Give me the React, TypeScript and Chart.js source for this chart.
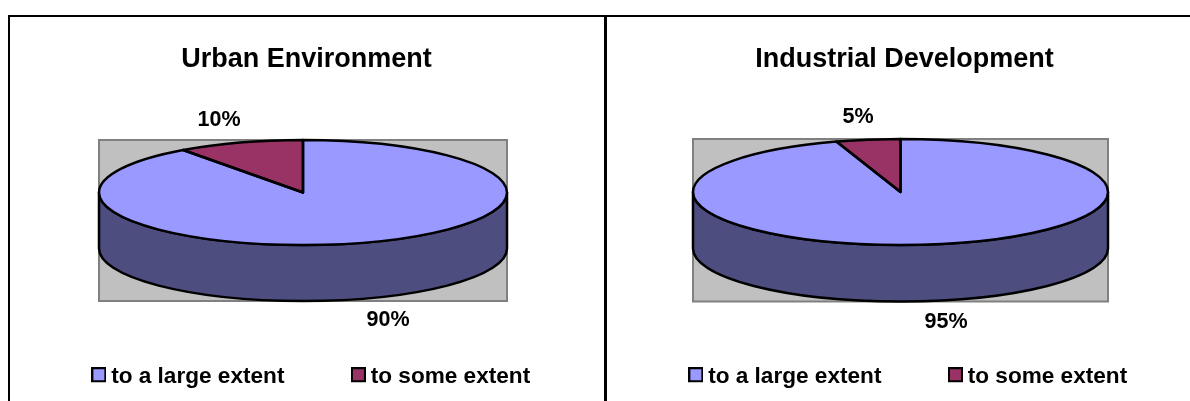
import React, { useEffect, useRef } from "react";
import { Chart, registerables } from "chart.js";

Chart.register(...registerables);

const categories = ["to a large extent", "to some extent"];
const urbanValues = [90, 10];
const industrialValues = [95, 5];
const sliceColors = ["#9999FF", "#993366"];
const wallColor = "#4D4D80";
const FONT = "'Liberation Sans', Arial, sans-serif";
const CANVAS_TOP = 17;
const CANVAS_H = 384;
const CANVAS_W = 595;

const panels = [
  { title: "Urban Environment", values: urbanValues, left: 9, cx: 303, cy: 192.5, rx: 204, ry: 52.5, depth: 56, labels: [[388, 320], [219, 120]], legendShift: 7.5 },
  { title: "Industrial Development", values: industrialValues, left: 607, cx: 900.5, cy: 192, rx: 207.5, ry: 53, depth: 56.5, labels: [[946, 322], [858, 117]], legendShift: 6.5 },
];

function swatch(color: string) {
  const c = document.createElement("canvas");
  c.width = 15;
  c.height = 19;
  const x = c.getContext("2d")!;
  x.fillStyle = color;
  x.fillRect(1, 1, 13, 13);
  x.strokeStyle = "#000";
  x.lineWidth = 2;
  x.strokeRect(1, 1, 13, 13);
  return c;
}

function piePlugin(p: (typeof panels)[number]) {
  const cx = p.cx - p.left;
  const cy = p.cy - CANVAS_TOP;
  return {
    id: "pie3d",
    afterLayout(chart: any) {
      chart.legend.left += p.legendShift;
      chart.legend.right += p.legendShift;
    },
    beforeDatasetsDraw(chart: any) {
      const ctx = chart.ctx;
      const el = chart.getDatasetMeta(0).data[0];
      ctx.save();
      ctx.fillStyle = "#C0C0C0";
      ctx.strokeStyle = "#808080";
      ctx.lineWidth = 2;
      ctx.fillRect(cx - p.rx, cy - p.ry, 2 * p.rx, 2 * p.ry + p.depth);
      ctx.strokeRect(cx - p.rx, cy - p.ry, 2 * p.rx, 2 * p.ry + p.depth);
      ctx.beginPath();
      ctx.moveTo(cx - p.rx, cy);
      ctx.lineTo(cx - p.rx, cy + p.depth);
      ctx.ellipse(cx, cy + p.depth, p.rx, p.ry, 0, Math.PI, 0, true);
      ctx.lineTo(cx + p.rx, cy);
      ctx.ellipse(cx, cy, p.rx, p.ry, 0, 0, Math.PI, false);
      ctx.closePath();
      ctx.fillStyle = wallColor;
      ctx.fill();
      ctx.strokeStyle = "#000";
      ctx.lineWidth = 2.5;
      ctx.lineJoin = "round";
      ctx.stroke();
      ctx.restore();
      ctx.save();
      ctx.translate(cx, cy);
      ctx.scale(1, p.ry / p.rx);
      ctx.translate(-el.x, -el.y);
    },
    afterDatasetsDraw(chart: any) {
      const ctx = chart.ctx;
      ctx.restore();
      ctx.save();
      ctx.strokeStyle = "#000";
      ctx.lineWidth = 2.5;
      ctx.lineJoin = "round";
      chart.getDatasetMeta(0).data.forEach((el: any) => {
        ctx.beginPath();
        ctx.moveTo(cx, cy);
        ctx.ellipse(cx, cy, p.rx, p.ry, 0, el.startAngle, el.endAngle, false);
        ctx.closePath();
        ctx.stroke();
      });
      ctx.fillStyle = "#000";
      ctx.font = `bold 21.5px ${FONT}`;
      ctx.textAlign = "center";
      ctx.textBaseline = "middle";
      p.values.forEach((v, i) => {
        ctx.fillText(`${v}%`, p.labels[i][0] - p.left, p.labels[i][1] - CANVAS_TOP);
      });
      ctx.restore();
    },
  };
}

function Panel({ p }: { p: (typeof panels)[number] }) {
  const ref = useRef<HTMLCanvasElement>(null);
  useEffect(() => {
    const swatches = sliceColors.map(swatch);
    const chart = new Chart(ref.current!, {
      type: "pie",
      data: {
        labels: categories,
        datasets: [{ data: p.values, backgroundColor: sliceColors, borderWidth: 0, radius: p.rx, clip: false } as any],
      },
      options: {
        responsive: false,
        animation: false,
        layout: { padding: { bottom: 3 } },
        plugins: {
          tooltip: { enabled: false },
          title: {
            display: true,
            text: p.title,
            color: "#000",
            font: { family: FONT, size: 27, weight: "bold" },
            padding: { top: 26, bottom: 0 },
          },
          legend: {
            position: "bottom",
            onClick: () => {},
            labels: {
              color: "#000",
              font: { family: FONT, size: 22.6, weight: "bold" },
              padding: 73,
              usePointStyle: true,
              pointStyleWidth: 2,
              boxHeight: 15,
              generateLabels: () =>
                categories.map((text, i) => ({ text, pointStyle: swatches[i], fillStyle: sliceColors[i], strokeStyle: "#000", lineWidth: 0, index: i, hidden: false })),
            },
          },
        },
      } as any,
      plugins: [piePlugin(p)],
    });
    return () => chart.destroy();
  }, [p]);
  return (
    <canvas
      ref={ref}
      width={CANVAS_W}
      height={CANVAS_H}
      style={{ position: "absolute", left: p.left, top: CANVAS_TOP, width: CANVAS_W, height: CANVAS_H }}
    />
  );
}

export default function App() {
  const line = (left: number, top: number, width: number, height: number) => (
    <div style={{ position: "absolute", left, top, width, height, background: "#000" }} />
  );
  return (
    <div style={{ position: "fixed", left: 0, top: 0, width: 1190, height: 401, overflow: "hidden", background: "#fff" }}>
      {panels.map((p) => (
        <Panel key={p.title} p={p} />
      ))}
      {line(8, 15, 1182, 2)}
      {line(8, 15, 2, 386)}
      {line(604, 15, 3, 386)}
    </div>
  );
}
